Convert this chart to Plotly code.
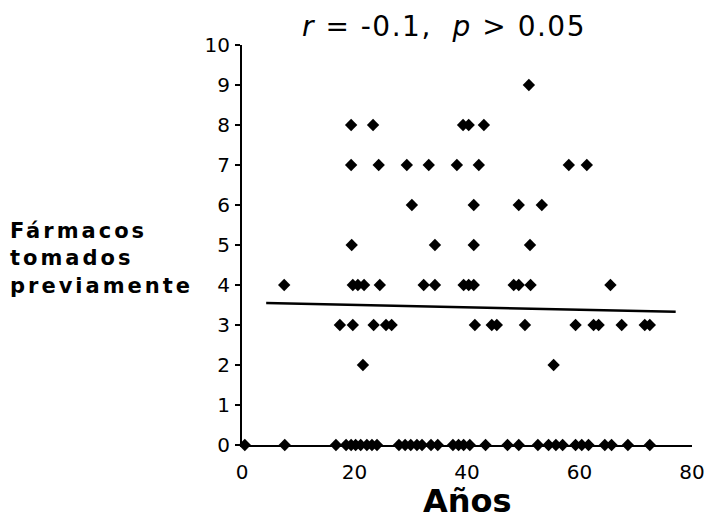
import plotly.graph_objects as go

# Data (age in years, number of drugs previously taken)
ages_0 = [0.5, 7.6, 16.7, 18.5, 19.4, 20.2, 21.1, 22.2, 23.1, 24.0, 27.9, 29.0, 30.0,
          31.1, 32.0, 33.6, 34.8, 37.5, 38.5, 39.4, 40.5, 43.3, 47.2, 49.2, 52.6,
          54.5, 55.8, 57.0, 59.3, 60.4, 61.6, 64.5, 65.7, 68.6, 72.5]
ages_2 = [21.5, 55.4]
ages_3 = [17.4, 19.7, 23.4, 25.6, 26.6, 41.4, 44.4, 45.3, 50.3, 59.3, 62.5, 63.4,
          67.5, 71.6, 72.5]
ages_4 = [7.5, 19.7, 20.6, 21.7, 24.5, 32.3, 34.3, 39.4, 40.3, 41.2, 48.3, 49.2,
          51.3, 65.5]
ages_5 = [19.5, 34.3, 41.2, 51.2]
ages_6 = [30.2, 41.2, 49.2, 53.3]
ages_7 = [19.4, 24.3, 29.3, 33.2, 38.2, 42.1, 58.1, 61.3]
ages_8 = [19.4, 23.3, 39.3, 40.3, 43.0]
ages_9 = [51.0]

groups = [(0, ages_0), (2, ages_2), (3, ages_3), (4, ages_4), (5, ages_5),
          (6, ages_6), (7, ages_7), (8, ages_8), (9, ages_9)]
x_vals = []
y_vals = []
for n, ages in groups:
    x_vals += ages
    y_vals += [n] * len(ages)

fit_x = [4.3, 77.1]
fit_y = [3.55, 3.33]

x_ticks = [0, 20, 40, 60, 80]
y_ticks = list(range(0, 11))

title_text = ('<span style="letter-spacing:1.5px"><i>r</i> = -0.1,  '
              '<i>p</i> > 0.05</span>')
x_title = "<b>Años</b>"
y_title_lines = ["Fármacos", "tomados", "previamente"]

fig = go.Figure()
fig.add_trace(go.Scatter(x=fit_x, y=fit_y, mode="lines",
                         line=dict(color="black", width=2.5), hoverinfo="skip"))
fig.add_trace(go.Scatter(x=x_vals, y=y_vals, mode="markers",
                         marker=dict(symbol="diamond", size=9.5, color="black"),
                         cliponaxis=False))

fig.update_layout(
    width=716, height=519,
    margin=dict(l=234, r=32, t=37, b=82),
    paper_bgcolor="white", plot_bgcolor="white",
    showlegend=False,
    font=dict(family="DejaVu Sans", color="black"),
    title=dict(text=title_text, x=436 / 716, xanchor="center", y=1 - 18 / 519,
               yanchor="middle", font=dict(size=28, family="DejaVu Sans", color="black")),
    xaxis=dict(range=[0, 80], tickvals=x_ticks, ticktext=[str(v) for v in x_ticks],
               showgrid=False, zeroline=False, showline=True, linecolor="black",
               linewidth=2, ticks="", ticklabelstandoff=8, automargin=False,
               tickfont=dict(size=20, family="DejaVu Sans", color="black")),
    yaxis=dict(range=[0, 10], tickvals=y_ticks, ticktext=[str(v) for v in y_ticks],
               showgrid=False, zeroline=False, showline=True, linecolor="black",
               linewidth=2, ticks="outside", ticklen=5, tickwidth=1.5,
               tickcolor="black", ticklabelstandoff=1, automargin=False,
               tickfont=dict(size=20, family="DejaVu Sans", color="black")),
)

fig.add_annotation(text=x_title, xref="paper", yref="paper",
                   x=0.5, y=-(500 - 444) / 400, xanchor="center", yanchor="middle",
                   showarrow=False,
                   font=dict(size=32, family="DejaVu Sans", color="black"))

y_title = "<br>".join('<span style="letter-spacing:3px">' + s + "</span>"
                      for s in y_title_lines)
fig.add_annotation(text="<b>" + y_title + "</b>", xref="paper", yref="paper",
                   x=(0 - 234) / 450, y=(444 - 257) / 400, xanchor="left",
                   yanchor="middle", align="left", showarrow=False,
                   font=dict(size=21, family="DejaVu Sans", color="black"))

fig.write_html("out.html")
